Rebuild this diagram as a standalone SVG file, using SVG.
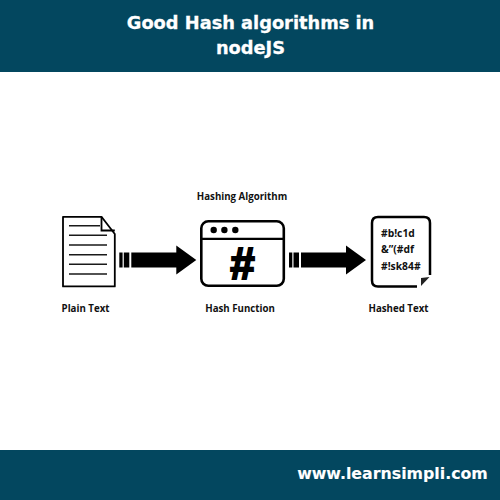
<svg xmlns="http://www.w3.org/2000/svg" width="500" height="500" viewBox="0 0 500 500">
<style>
.band{fill:#03475f}
.head{font-family:"DejaVu Sans",sans-serif;font-weight:700;fill:#fff;stroke:#fff;stroke-width:.3;text-anchor:middle}
.lab{font-family:"Open Sans","Noto Sans",sans-serif;font-weight:700;font-size:9.7px;fill:#111;text-anchor:middle}
.code{font-family:"Open Sans","Noto Sans",sans-serif;font-weight:700;font-size:10.3px;fill:#111}
.o{fill:#fff;stroke:#000;stroke-linejoin:round}
.l{stroke:#1a1a1a;stroke-width:1.4;fill:none}
</style>
<defs>
<path id="arrow" d="M0 -7.500H3.300V7.500H0ZM4.500 -7.500H10V7.500H4.500ZM12 -7.500H57V-14.500L77 0L57 14.500V7.500H12Z" fill="#000"/>
</defs>
<rect width="500" height="500" fill="#fff"/>
<rect class="band" width="500" height="72"/>
<rect class="band" y="450" width="500" height="50"/>
<g id="title"><text class="head" x="250.500" y="29" font-size="17.800">Good Hash algorithms in</text><text class="head" x="250.500" y="54" font-size="17.800">nodeJS</text></g>
<text class="head" id="url" x="392.500" y="479" font-size="15.800" style="stroke-width:.1">www.learnsimpli.com</text>
<g id="plain"><path class="o" stroke-width="1.800" d="M63 216.800H101.500L114.800 234V286.400H63Z"/><path stroke="#000" stroke-width="1.800" fill="none" d="M101.500 216.800V230.500H114.800"/>
<path class="l" d="M69 225.700H100M69 235.300H107M69 245H107M69 254.700H107M69 264.300H107M69 274H107"/><text class="lab" x="85.500" y="312">Plain Text</text></g>
<g id="connectors"><use href="#arrow" x="119.300" y="260"/><use href="#arrow" x="289" y="260"/></g>
<g id="hash"><text class="lab" x="242" y="200">Hashing Algorithm</text><rect class="o" x="201.300" y="221.300" width="82.500" height="64.500" rx="7" stroke-width="2.600"/><path d="M201 238.800H284" stroke="#000" stroke-width="2.200"/><circle cx="213.700" cy="230" r="3.200"/><circle cx="224.400" cy="230" r="3.200"/><circle cx="235.300" cy="230" r="3.200"/>
<text x="242.500" y="278.500" font-family="Liberation Sans,sans-serif" font-size="44" font-weight="700" text-anchor="middle" fill="#000" stroke="#000" stroke-width="2">#</text><text class="lab" x="240" y="312">Hash Function</text></g>
<g id="hashed"><path fill="#fff" stroke="#000" stroke-width="2.500" stroke-linejoin="round" d="M417 286.500H378Q372 286.500 372 280.500V223Q372 217 378 217H424Q430 217 430 223V275"/><path d="M421 278L429.500 277L421 286Z" fill="#222"/>
<text class="code" x="381" y="237">#b!c1d</text><text class="code" x="381" y="253">&amp;”(#df</text><text class="code" x="381" y="269.500">#!sk84#</text><text class="lab" x="398.500" y="312">Hashed Text</text></g>
</svg>
